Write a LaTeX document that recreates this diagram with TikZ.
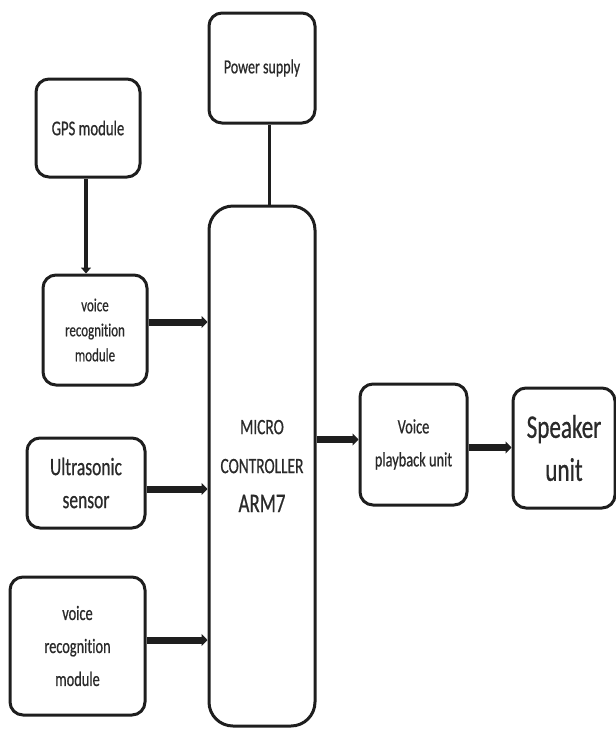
\documentclass[tikz,border=0pt]{standalone}
\usepackage{fontspec}
\setmainfont[FakeStretch=0.7, FakeBold=0.6, Ligatures=NoCommon]{Carlito}
\usetikzlibrary{arrows.meta}
\definecolor{ink}{HTML}{1E1E1E}
\definecolor{txt}{HTML}{2A2A2A}
\begin{document}
\begin{tikzpicture}[x=1pt,y=-1pt,
  box/.style={draw=ink, text=txt, line width=3pt, rounded corners=13pt, align=center, inner sep=0pt,
    font=\fontsize{20}{25}\selectfont},
  bigarrow/.style={draw=ink, line width=7pt, -{Triangle[length=6pt,width=12pt]}},
  midarrow/.style={draw=ink, line width=4pt, -{Triangle[length=6pt,width=10pt]}},
  plainline/.style={draw=ink, line width=3pt}]
\useasboundingbox (0,0) rectangle (616,729);
\node[box, minimum width=106pt, minimum height=110pt] (ps) at (262,68) {Power supply};
\node[box, minimum width=104pt, minimum height=98pt, font=\fontsize{21}{25}\selectfont] (gps) at (88,128) {GPS module};
\node[box, minimum width=104pt, minimum height=110pt, font=\fontsize{18.5}{25}\selectfont] (vr1) at (95,330) {voice\\recognition\\module};
\node[box, minimum width=106pt, minimum height=520pt, rounded corners=24pt, font=\fontsize{22}{39}\selectfont] (mcu) at (262,466) {MICRO\\CONTROLLER\\{\fontsize{27}{39}\selectfont ARM7}};
\node[box, minimum width=118pt, minimum height=90pt, font=\fontsize{25}{33}\selectfont] (us) at (86,483) {Ultrasonic\\sensor};
\node[box, minimum width=135pt, minimum height=138pt, font=\fontsize{20.5}{33}\selectfont] (vr2) at (77.5,646) {voice\\recognition\\module};
\node[box, minimum width=107pt, minimum height=121pt, font=\fontsize{20.5}{33}\selectfont] (vp) at (413.5,444.5) {Voice\\playback unit};
\node[box, minimum width=102pt, minimum height=120pt, font=\fontsize{33}{43}\selectfont] (sp) at (564,448) {Speaker\\unit};
\draw[plainline] ([xshift=7pt]ps.south) -- ([xshift=7pt]ps.south |- mcu.north);
\draw[midarrow] ([xshift=-2pt]gps.south) -- ([xshift=-2pt]gps.south |- vr1.north);
\draw[bigarrow] ([yshift=8pt]vr1.east) -- ([yshift=8pt]vr1.east -| mcu.west);
\draw[bigarrow] ([yshift=-6pt]us.east) -- ([yshift=-6pt]us.east -| mcu.west);
\draw[bigarrow] ([yshift=6pt]vr2.east) -- ([yshift=6pt]vr2.east -| mcu.west);
\draw[bigarrow] (mcu.east |- vp.west) ++(0,-5) coordinate (m1) (m1) -- (m1 -| vp.west);
\draw[bigarrow] ([yshift=-3pt]vp.east) -- ([yshift=-3pt]vp.east -| sp.west);
\end{tikzpicture}
\end{document}
